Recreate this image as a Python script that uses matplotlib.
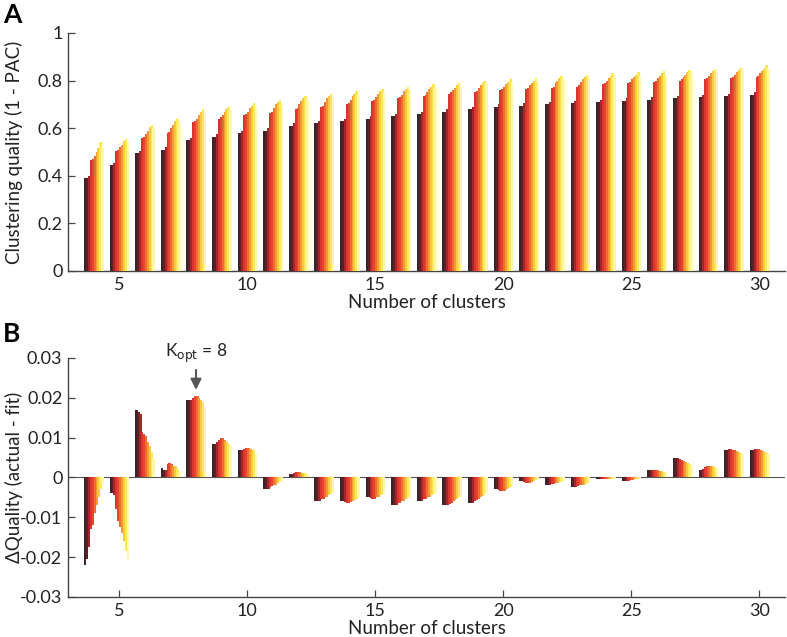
import numpy as np
import matplotlib
matplotlib.use("Agg")
import matplotlib.pyplot as plt
from matplotlib.colors import LinearSegmentedColormap

plt.rcParams['font.family'] = ['Lato', 'DejaVu Sans']

clusters = list(range(4, 31))

# Panel A: clustering quality (1 - PAC), 10 bars per cluster number
quality = [
    [.39, .39, .40, .465, .47, .485, .50, .515, .54, .52],
    [.445, .445, .455, .505, .51, .52, .53, .545, .555, .54],
    [.495, .495, .505, .56, .565, .575, .59, .605, .615, .60],
    [.51, .51, .52, .58, .585, .60, .615, .63, .64, .625],
    [.55, .55, .56, .625, .63, .64, .655, .67, .68, .665],
    [.565, .565, .575, .64, .645, .655, .67, .68, .69, .675],
    [.58, .58, .59, .655, .66, .67, .685, .695, .705, .69],
    [.59, .59, .60, .665, .67, .685, .70, .71, .72, .705],
    [.61, .61, .62, .68, .685, .70, .715, .725, .735, .72],
    [.62, .62, .63, .69, .695, .71, .725, .735, .745, .73],
    [.63, .63, .64, .70, .705, .72, .735, .745, .755, .74],
    [.64, .64, .65, .715, .72, .73, .745, .755, .765, .75],
    [.65, .65, .66, .725, .73, .74, .755, .765, .775, .76],
    [.66, .66, .67, .735, .74, .75, .765, .775, .785, .77],
    [.67, .67, .68, .745, .75, .76, .77, .78, .79, .775],
    [.68, .68, .69, .75, .755, .77, .78, .79, .80, .785],
    [.69, .69, .70, .76, .765, .775, .785, .795, .805, .79],
    [.695, .695, .705, .765, .77, .78, .79, .80, .81, .795],
    [.70, .70, .71, .77, .775, .79, .80, .81, .82, .805],
    [.705, .705, .715, .775, .78, .795, .805, .815, .825, .81],
    [.71, .71, .72, .785, .79, .80, .81, .82, .83, .815],
    [.715, .715, .725, .79, .795, .805, .815, .825, .835, .82],
    [.72, .72, .73, .795, .80, .81, .82, .83, .84, .825],
    [.725, .725, .735, .80, .805, .815, .825, .835, .845, .83],
    [.73, .73, .74, .805, .81, .82, .83, .84, .85, .835],
    [.735, .735, .745, .81, .815, .825, .835, .845, .855, .84],
    [.74, .74, .75, .815, .82, .83, .84, .85, .865, .85],
]

# Panel B: quality minus fit
delta = [
    [-0.022, -0.0205, -0.0175, -0.013, -0.012, -0.009, -0.007, -0.005, -0.003, -0.0015],
    [-0.004, -0.004, -0.0045, -0.008, -0.011, -0.0125, -0.014, -0.016, -0.0185, -0.0205],
    [0.017, 0.0165, 0.016, 0.0115, 0.011, 0.0105, 0.009, 0.008, 0.0065, 0.005],
    [0.0025, 0.002, 0.002, 0.0035, 0.0037, 0.0035, 0.003, 0.0028, 0.0022, 0.0015],
    [0.0195, 0.0195, 0.0195, 0.020, 0.0205, 0.0205, 0.020, 0.0195, 0.019, 0.0175],
    [0.0085, 0.0085, 0.009, 0.0095, 0.010, 0.0098, 0.0095, 0.009, 0.0085, 0.008],
    [0.0068, 0.0068, 0.007, 0.0072, 0.0075, 0.0075, 0.0072, 0.007, 0.0068, 0.006],
    [-0.003, -0.003, -0.0028, -0.0025, -0.0022, -0.002, -0.0018, -0.0015, -0.0012, -0.001],
    [0.001, 0.001, 0.0012, 0.0013, 0.0013, 0.0013, 0.0012, 0.0012, 0.0011, 0.001],
    [-0.006, -0.006, -0.0058, -0.0055, -0.0053, -0.005, -0.0048, -0.0045, -0.0042, -0.004],
    [-0.006, -0.006, -0.0062, -0.0065, -0.0065, -0.0062, -0.006, -0.0057, -0.0053, -0.005],
    [-0.005, -0.005, -0.0052, -0.0055, -0.0053, -0.005, -0.0048, -0.0045, -0.0042, -0.004],
    [-0.007, -0.007, -0.0068, -0.0065, -0.0063, -0.006, -0.0058, -0.0055, -0.0052, -0.005],
    [-0.006, -0.006, -0.0058, -0.0055, -0.0053, -0.005, -0.0048, -0.0045, -0.0042, -0.004],
    [-0.007, -0.007, -0.0068, -0.0066, -0.0063, -0.006, -0.0057, -0.0054, -0.005, -0.0048],
    [-0.0065, -0.0065, -0.0063, -0.006, -0.0057, -0.0053, -0.005, -0.0046, -0.0042, -0.004],
    [-0.003, -0.003, -0.0032, -0.0035, -0.0035, -0.0033, -0.003, -0.0027, -0.0024, -0.002],
    [-0.001, -0.001, -0.0012, -0.0015, -0.0015, -0.0013, -0.0011, -0.0009, -0.0007, -0.0005],
    [-0.002, -0.002, -0.0019, -0.0017, -0.0016, -0.0015, -0.0013, -0.0012, -0.0011, -0.001],
    [-0.0025, -0.0025, -0.0024, -0.0022, -0.002, -0.0019, -0.0018, -0.0016, -0.0015, -0.0014],
    [-0.0005, -0.0005, -0.0005, -0.0005, -0.0005, -0.0004, -0.0004, -0.0003, -0.0003, -0.0002],
    [-0.001, -0.001, -0.0009, -0.0008, -0.0007, -0.0006, -0.0005, -0.0004, -0.0003, -0.0002],
    [0.002, 0.002, 0.002, 0.002, 0.0019, 0.0018, 0.0017, 0.0016, 0.0015, 0.0014],
    [0.005, 0.005, 0.0048, 0.0046, 0.0044, 0.0042, 0.004, 0.0037, 0.0034, 0.003],
    [0.002, 0.002, 0.0022, 0.0026, 0.0029, 0.003, 0.003, 0.0029, 0.0027, 0.0025],
    [0.007, 0.007, 0.0072, 0.0072, 0.007, 0.0068, 0.0066, 0.0064, 0.0062, 0.006],
    [0.007, 0.007, 0.0071, 0.0072, 0.0071, 0.0069, 0.0067, 0.0065, 0.0062, 0.006],
]

xticks = [5, 10, 15, 20, 25, 30]
yticks_a = [0, 0.2, 0.4, 0.6, 0.8, 1]
yticks_b = [-0.03, -0.02, -0.01, 0, 0.01, 0.02, 0.03]
k_opt = 8

cmap = LinearSegmentedColormap.from_list("pac", [
    (0.0, "#3a2428"), (0.15, "#6a2024"), (0.28, "#d22c30"), (0.45, "#e8462f"),
    (0.6, "#f27d2e"), (0.74, "#f8bd3a"), (0.87, "#fbe845"), (1.0, "#fff7a6")])

n_bars = len(quality[0])
group_w = 0.75
bw = group_w / n_bars
offsets = -group_w / 2 + bw * (np.arange(n_bars) + 0.5)
colors = [cmap(i / (n_bars - 1)) for i in range(n_bars)]

fig = plt.figure(figsize=(7.87, 6.37), dpi=100)
axA = fig.add_axes([0.0864, 0.5746, 0.911, 0.3736])
axB = fig.add_axes([0.0864, 0.0628, 0.911, 0.3752])

qa = np.array(quality)
db = np.array(delta)
x = np.array(clusters, dtype=float)
for j in range(n_bars):
    axA.bar(x + offsets[j] + bw * 0.15, qa[:, j], width=bw * 1.3, color=colors[j],
            linewidth=0, zorder=2 + j)
    axB.bar(x + offsets[j] + bw * 0.15, db[:, j], width=bw * 1.3, color=colors[j],
            linewidth=0, zorder=2 + j)

axB.axhline(0, color="#555555", lw=0.8, zorder=1)

for ax in (axA, axB):
    ax.set_xlim(3, 31)
    for s in ("top", "right"):
        ax.spines[s].set_visible(False)
    for s in ("left", "bottom"):
        ax.spines[s].set_color("#444444")
        ax.spines[s].set_linewidth(1.0)
    ax.set_xticks(xticks)
    ax.tick_params(direction="in", length=5, width=0.9, color="#444444",
                   labelsize=13, labelcolor="#222222", pad=4)
    ax.set_xlabel("Number of clusters", fontsize=13.5, color="#222222", labelpad=1)

axA.set_ylim(0, 1)
axA.set_yticks(yticks_a)
axA.set_yticklabels(["0", "0.2", "0.4", "0.6", "0.8", "1"])
axA.set_ylabel("Clustering quality (1 - PAC)", fontsize=13.5, color="#222222")
axA.yaxis.set_label_coords(-0.063, 0.5)

axB.set_ylim(-0.03, 0.03)
axB.set_yticks(yticks_b)
axB.set_yticklabels(["-0.03", "-0.02", "-0.01", "0", "0.01", "0.02", "0.03"])
axB.set_ylabel("\u0394Quality (actual - fit)", fontsize=13.5, color="#222222")
axB.yaxis.set_label_coords(-0.063, 0.5)

top8 = db[clusters.index(k_opt)].max()
axB.annotate("", xy=(k_opt, top8 + 0.0008), xytext=(k_opt, top8 + 0.0072),
             arrowprops=dict(arrowstyle="-|>", color="#555555", lw=1.5,
                             mutation_scale=16), annotation_clip=False)
axB.text(k_opt, top8 + 0.0078, r"K$_{\mathrm{opt}}$ = 8", ha="center", va="bottom",
         fontsize=12.5, color="#222222", clip_on=False)

fig.text(0.004, 0.995, "A", fontsize=19, fontweight="bold", va="top", ha="left")
fig.text(0.004, 0.495, "B", fontsize=19, fontweight="bold", va="top", ha="left")

fig.savefig("out.png", dpi=100)
